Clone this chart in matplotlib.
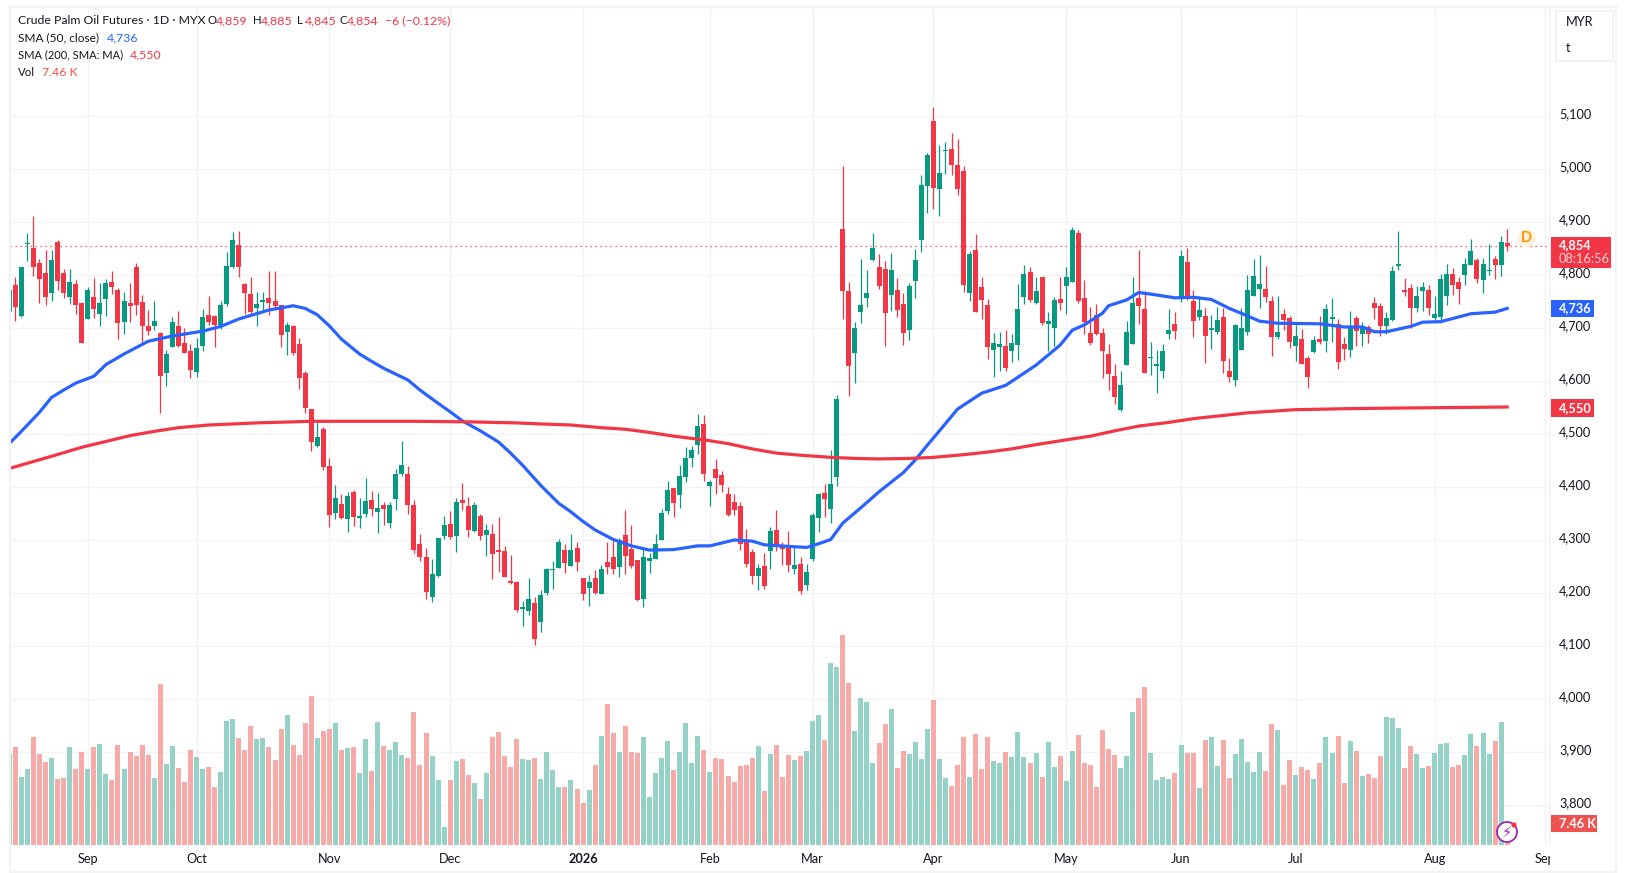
from matplotlib import pyplot as plt
from matplotlib.patches import Circle, Rectangle
from matplotlib.transforms import Bbox, IdentityTransform, ScaledTranslation
from matplotlib.lines import Line2D

WIDTH, HEIGHT = 1626, 873

opens = [
    4730, 4780, 4722, 4857, 4850, 4822, 4803, 4765, 4862, 4803,
    4758, 4782, 4747, 4716, 4758, 4726, 4754, 4786, 4771, 4711,
    4747, 4814, 4748, 4703, 4703, 4689, 4614, 4663, 4703, 4671,
    4656, 4616, 4665, 4724, 4722, 4705, 4745, 4814, 4856, 4782,
    4763, 4737, 4748, 4756, 4750, 4743, 4692, 4703, 4669, 4614,
    4546, 4476, 4508, 4438, 4350, 4367, 4338, 4389, 4340, 4348,
    4374, 4352, 4365, 4331, 4376, 4423, 4423, 4365, 4291, 4267,
    4191, 4231, 4306, 4329, 4306, 4374, 4363, 4316, 4344, 4308,
    4310, 4280, 4278, 4221, 4219, 4168, 4165, 4180, 4144, 4199,
    4242, 4246, 4280, 4250, 4284, 4227, 4208, 4227, 4197, 4257,
    4267, 4248, 4308, 4282, 4261, 4187, 4259, 4263, 4299, 4353,
    4397, 4384, 4418, 4453, 4478, 4518, 4401, 4433, 4421, 4386,
    4370, 4363, 4297, 4276, 4231, 4250, 4278, 4318, 4287, 4284,
    4244, 4253, 4214, 4263, 4340, 4387, 4357, 4418, 4886, 4769,
    4652, 4729, 4755, 4827, 4814, 4810, 4761, 4770, 4744, 4695,
    4787, 4865, 4967, 5089, 4961, 5033, 5036, 5006, 4995, 4765,
    4846, 4776, 4742, 4657, 4663, 4665, 4655, 4667, 4757, 4804,
    4746, 4795, 4706, 4699, 4753, 4778, 4786, 4878, 4755, 4690,
    4724, 4690, 4650, 4609, 4545, 4630, 4669, 4756, 4735, 4643,
    4628, 4618, 4688, 4707, 4756, 4824, 4750, 4720, 4722, 4696,
    4692, 4720, 4618, 4601, 4658, 4692, 4760, 4773, 4773, 4750,
    4682, 4726, 4718, 4665, 4678, 4643, 4654, 4678, 4675, 4716,
    4707, 4669, 4658, 4718, 4688, 4701, 4747, 4741, 4703, 4714,
    4816, 4771, 4775, 4737, 4769, 4771, 4718, 4720, 4760, 4801,
    4786, 4799, 4818, 4828, 4790, 4807, 4830, 4818, 4859,
]
highs = [
    4771, 4795, 4814, 4879, 4911, 4830, 4847, 4847, 4865, 4811,
    4811, 4790, 4749, 4777, 4794, 4784, 4792, 4807, 4775, 4767,
    4784, 4822, 4762, 4733, 4750, 4691, 4658, 4720, 4731, 4699,
    4669, 4680, 4735, 4760, 4724, 4750, 4843, 4880, 4882, 4784,
    4796, 4767, 4767, 4807, 4807, 4743, 4711, 4705, 4680, 4618,
    4547, 4521, 4512, 4453, 4402, 4386, 4389, 4393, 4378, 4416,
    4391, 4387, 4370, 4370, 4433, 4486, 4438, 4374, 4310, 4284,
    4263, 4303, 4344, 4353, 4378, 4406, 4380, 4370, 4348, 4329,
    4329, 4342, 4287, 4270, 4221, 4184, 4227, 4191, 4204, 4246,
    4259, 4301, 4291, 4310, 4295, 4227, 4233, 4242, 4252, 4295,
    4303, 4303, 4355, 4327, 4261, 4282, 4274, 4310, 4357, 4410,
    4397, 4440, 4474, 4476, 4536, 4535, 4412, 4452, 4429, 4399,
    4386, 4370, 4319, 4282, 4253, 4274, 4323, 4355, 4295, 4316,
    4287, 4267, 4253, 4350, 4387, 4404, 4469, 4572, 5004, 4786,
    4710, 4829, 4808, 4878, 4838, 4825, 4840, 4793, 4765, 4784,
    4848, 4987, 5029, 5116, 5044, 5050, 5067, 5055, 5004, 4844,
    4876, 4795, 4753, 4689, 4691, 4695, 4687, 4782, 4818, 4814,
    4795, 4795, 4729, 4757, 4795, 4814, 4889, 4884, 4789, 4738,
    4745, 4699, 4669, 4631, 4618, 4712, 4796, 4847, 4769, 4673,
    4658, 4669, 4735, 4730, 4847, 4850, 4771, 4760, 4737, 4724,
    4739, 4737, 4643, 4707, 4737, 4799, 4830, 4837, 4816, 4760,
    4760, 4735, 4722, 4705, 4697, 4647, 4684, 4722, 4745, 4756,
    4716, 4682, 4731, 4722, 4711, 4705, 4758, 4747, 4730, 4816,
    4882, 4794, 4782, 4779, 4786, 4780, 4760, 4801, 4820, 4813,
    4796, 4831, 4867, 4831, 4831, 4858, 4835, 4873, 4885,
]
lows = [
    4730, 4713, 4720, 4826, 4797, 4747, 4743, 4750, 4771, 4756,
    4745, 4726, 4671, 4716, 4718, 4703, 4722, 4764, 4679, 4688,
    4711, 4724, 4671, 4686, 4696, 4539, 4590, 4663, 4663, 4652,
    4605, 4607, 4656, 4705, 4663, 4697, 4741, 4813, 4796, 4726,
    4722, 4703, 4730, 4724, 4737, 4663, 4648, 4648, 4584, 4538,
    4467, 4474, 4431, 4323, 4338, 4338, 4314, 4325, 4321, 4342,
    4344, 4312, 4327, 4321, 4355, 4419, 4348, 4274, 4259, 4187,
    4182, 4229, 4301, 4301, 4276, 4355, 4304, 4314, 4299, 4269,
    4225, 4238, 4229, 4216, 4163, 4137, 4158, 4101, 4125, 4195,
    4206, 4246, 4236, 4250, 4240, 4186, 4174, 4197, 4197, 4235,
    4235, 4229, 4235, 4246, 4184, 4172, 4236, 4263, 4299, 4348,
    4342, 4359, 4408, 4436, 4461, 4410, 4363, 4386, 4389, 4344,
    4346, 4280, 4248, 4216, 4204, 4206, 4244, 4278, 4252, 4238,
    4235, 4197, 4204, 4259, 4314, 4342, 4331, 4401, 4716, 4570,
    4595, 4708, 4738, 4825, 4772, 4665, 4731, 4719, 4667, 4676,
    4755, 4842, 4916, 4923, 4910, 4989, 4987, 4950, 4767, 4750,
    4729, 4716, 4640, 4606, 4618, 4618, 4635, 4638, 4744, 4748,
    4744, 4704, 4655, 4665, 4733, 4725, 4786, 4746, 4687, 4667,
    4686, 4605, 4582, 4556, 4543, 4630, 4669, 4707, 4614, 4611,
    4577, 4605, 4679, 4679, 4748, 4752, 4682, 4714, 4633, 4660,
    4688, 4614, 4597, 4590, 4658, 4686, 4760, 4737, 4748, 4647,
    4679, 4696, 4662, 4637, 4631, 4586, 4652, 4669, 4654, 4673,
    4622, 4639, 4645, 4665, 4665, 4671, 4716, 4684, 4688, 4713,
    4809, 4760, 4699, 4730, 4731, 4724, 4711, 4713, 4743, 4762,
    4745, 4780, 4818, 4784, 4765, 4799, 4792, 4797, 4845,
]
closes = [
    4771, 4739, 4814, 4859, 4814, 4792, 4758, 4828, 4788, 4765,
    4786, 4743, 4671, 4771, 4735, 4747, 4784, 4777, 4709, 4750,
    4741, 4743, 4703, 4694, 4713, 4609, 4650, 4711, 4665, 4652,
    4620, 4662, 4720, 4711, 4705, 4743, 4816, 4865, 4814, 4765,
    4730, 4745, 4752, 4747, 4741, 4686, 4705, 4652, 4605, 4548,
    4484, 4493, 4436, 4346, 4378, 4340, 4382, 4342, 4344, 4372,
    4357, 4359, 4357, 4365, 4423, 4440, 4365, 4280, 4267, 4201,
    4235, 4303, 4327, 4304, 4370, 4369, 4318, 4365, 4306, 4318,
    4272, 4276, 4229, 4218, 4167, 4172, 4187, 4112, 4195, 4244,
    4244, 4295, 4255, 4280, 4257, 4197, 4219, 4199, 4244, 4248,
    4244, 4299, 4269, 4250, 4186, 4267, 4265, 4291, 4350, 4393,
    4369, 4419, 4453, 4469, 4514, 4423, 4408, 4416, 4403, 4346,
    4355, 4291, 4253, 4231, 4246, 4212, 4316, 4286, 4282, 4252,
    4252, 4202, 4238, 4346, 4386, 4376, 4404, 4565, 4769, 4627,
    4699, 4742, 4765, 4850, 4778, 4727, 4808, 4733, 4689, 4778,
    4827, 4969, 5025, 4963, 4991, 5035, 5006, 4961, 4780, 4838,
    4729, 4752, 4663, 4670, 4669, 4623, 4670, 4735, 4801, 4752,
    4769, 4708, 4712, 4752, 4746, 4795, 4884, 4750, 4710, 4671,
    4688, 4656, 4613, 4569, 4592, 4692, 4747, 4741, 4614, 4645,
    4631, 4656, 4696, 4694, 4835, 4756, 4713, 4733, 4684, 4699,
    4714, 4637, 4607, 4705, 4699, 4771, 4797, 4782, 4758, 4682,
    4692, 4714, 4673, 4684, 4631, 4607, 4677, 4673, 4735, 4720,
    4635, 4660, 4701, 4694, 4703, 4688, 4737, 4703, 4718, 4807,
    4820, 4767, 4737, 4760, 4777, 4737, 4726, 4792, 4801, 4780,
    4773, 4820, 4845, 4792, 4820, 4809, 4818, 4862, 4854,
]
# thousands of contracts
volumes = [
    34.1, 36.8, 25.5, 28.5, 40.5, 34.1, 31.1, 32.6, 24.8, 25.1,
    36.8, 28.5, 34.9, 28.5, 36.8, 37.9, 26.6, 24.4, 37.5, 28.5,
    34.9, 33.4, 37.5, 33.8, 25.1, 60.4, 30.4, 37.1, 28.9, 23.6,
    35.6, 33.0, 28.5, 29.3, 21.8, 27.4, 46.5, 47.3, 40.1, 35.6,
    44.6, 39.8, 40.1, 36.8, 31.9, 43.5, 48.8, 37.5, 33.8, 45.8,
    55.9, 40.1, 42.8, 43.5, 45.8, 35.6, 36.4, 36.8, 27.0, 39.8,
    27.8, 46.1, 37.1, 35.6, 38.6, 33.8, 32.6, 49.9, 30.0, 42.0,
    33.4, 24.4, 6.8, 24.4, 31.5, 32.3, 26.3, 23.3, 17.3, 27.0,
    40.5, 42.4, 33.4, 29.3, 39.8, 32.3, 31.9, 32.6, 24.8, 34.9,
    28.1, 21.8, 21.8, 24.4, 21.0, 15.8, 20.6, 30.0, 40.9, 52.9,
    42.0, 34.9, 44.6, 34.9, 34.5, 40.5, 18.0, 27.0, 32.6, 39.0,
    28.1, 34.9, 45.8, 30.8, 40.9, 35.6, 27.4, 32.6, 32.3, 25.9,
    23.6, 29.6, 30.0, 32.6, 37.1, 20.3, 34.1, 37.5, 25.5, 33.8,
    31.9, 33.4, 35.3, 46.5, 48.8, 39.4, 68.3, 66.8, 78.8, 60.8,
    42.8, 55.1, 53.6, 30.8, 38.3, 45.4, 51.0, 28.9, 35.3, 34.1,
    38.6, 32.3, 43.5, 54.4, 32.3, 25.1, 22.1, 30.0, 40.5, 25.5,
    41.6, 28.5, 40.5, 31.5, 30.8, 34.9, 33.0, 42.4, 33.0, 30.8,
    34.5, 25.5, 38.6, 29.3, 33.4, 24.0, 35.3, 41.3, 30.8, 30.0,
    21.8, 43.1, 36.0, 33.8, 28.9, 33.4, 49.9, 55.1, 59.3, 34.5,
    24.4, 25.5, 24.8, 27.0, 37.5, 34.5, 34.5, 21.4, 39.4, 40.5,
    29.6, 39.4, 25.1, 34.1, 39.8, 31.1, 27.4, 34.9, 27.8, 45.4,
    43.1, 22.5, 31.9, 26.3, 29.3, 28.1, 24.8, 30.8, 40.5, 34.5,
    40.9, 23.3, 39.0, 35.3, 25.9, 26.6, 25.1, 33.4, 48.0, 47.6,
    43.9, 28.9, 37.1, 34.1, 28.9, 29.6, 34.5, 37.9, 38.3, 29.3,
    30.0, 33.8, 41.6, 37.0, 42.0, 34.0, 39.0, 46.0, 7.46,
]

# moving averages at these bar numbers
sma50_bars = [
    0, 2, 5, 7, 9, 11, 14, 16, 19, 23, 27, 32, 35, 38, 43, 47, 49, 51, 53, 55,
    58, 60, 62, 64, 66, 68, 71, 73, 75, 78, 81, 83, 85, 88, 91, 93, 95, 97, 100,
    103, 106, 110, 114, 116, 120, 123, 125, 129, 132, 134, 136, 138, 141, 144,
    146, 148, 150, 152, 154, 157, 161, 165, 170, 174, 176, 178, 181, 182, 185,
    187, 189, 193, 196, 199, 202, 205, 207, 210, 217, 221, 224, 226, 228, 232,
    234, 237, 242, 246, 248,
]
sma50_values = [
    4481, 4504, 4540, 4568, 4582, 4595, 4608, 4630, 4650, 4674, 4684, 4693,
    4702, 4716, 4733, 4741, 4736, 4724, 4703, 4678, 4650, 4636, 4623, 4612,
    4601, 4582, 4557, 4541, 4524, 4505, 4484, 4463, 4440, 4402, 4368, 4352,
    4334, 4318, 4300, 4288, 4280, 4281, 4288, 4288, 4299, 4297, 4290, 4287,
    4285, 4292, 4300, 4331, 4360, 4390, 4408, 4426, 4450, 4478, 4505, 4546,
    4576, 4591, 4629, 4667, 4695, 4705, 4727, 4741, 4752, 4766, 4763, 4756,
    4757, 4753, 4736, 4722, 4712, 4708, 4707, 4701, 4701, 4692, 4692, 4702,
    4710, 4711, 4726, 4729, 4736,
]
sma200_bars = [
    0, 7, 12, 16, 20, 24, 28, 33, 37, 41, 50, 58, 67, 76, 84, 88, 93, 98, 102,
    106, 110, 115, 119, 123, 127, 131, 136, 140, 144, 149, 153, 158, 162, 166,
    170, 175, 179, 183, 187, 192, 196, 201, 205, 209, 213, 218, 222, 230, 239, 248,
]
sma200_values = [
    4434, 4457, 4474, 4485, 4496, 4504, 4511, 4516, 4518, 4520, 4523, 4523,
    4523, 4522, 4520, 4518, 4516, 4511, 4508, 4502, 4495, 4488, 4481, 4471,
    4463, 4459, 4455, 4453, 4452, 4453, 4455, 4460, 4465, 4471, 4479, 4488,
    4495, 4505, 4514, 4521, 4528, 4534, 4539, 4542, 4545, 4546, 4547, 4548,
    4549, 4550,
]

price_ticks = list(range(3800, 5200, 100))
month_bars = [13, 31, 53, 73, 95, 116, 133, 153, 175, 194, 213, 236, 254.3]
month_labels = ['Sep', 'Oct', 'Nov', 'Dec', '2026', 'Feb', 'Mar', 'Apr', 'May', 'Jun', 'Jul', 'Aug', 'Sep']
last_close = 4854
last_sma50 = 4736
last_sma200 = 4550

UP = '#089981'
DOWN = '#f23645'
UP_VOL = '#91d0c6'
DOWN_VOL = '#f7a8a6'
INK = '#131722'
GRID = '#f2f3f5'
BLUE = '#2962ff'

plt.rcParams['font.family'] = ['Lato', 'DejaVu Sans']
plt.rcParams['font.size'] = 9.2

fig = plt.figure(figsize=(WIDTH / 100, HEIGHT / 100), dpi=100, facecolor='white')

# pixel layout of the pane, measured from the top left of the image
left, right, top, bottom = 10, 1550, 8, 845
ax = fig.add_axes([left / WIDTH, 1 - bottom / HEIGHT, (right - left) / WIDTH, (bottom - top) / HEIGHT])
bar_px = 6.04
bar_zero = 9.26
ax.set_xlim((left - bar_zero) / bar_px, (right - bar_zero) / bar_px)
ax.set_ylim(4900 - (bottom - 221.5) / 0.53, 4900 + (221.5 - top) / 0.53)
for s in ax.spines.values():
    s.set_visible(False)

# candles
bars = list(range(len(closes)))
colors = [UP if c >= o else DOWN for o, c in zip(opens, closes)]
ax.vlines(bars, lows, highs, colors=colors, lw=0.9, zorder=3)
ax.bar(bars, [max(abs(c - o), 1.9) for o, c in zip(opens, closes)],
       bottom=[min(o, c) for o, c in zip(opens, closes)],
       width=5 / bar_px, color=colors, lw=0, zorder=4)

ax.plot(sma50_bars, sma50_values, color=BLUE, lw=2.3, zorder=5, solid_joinstyle='round')
ax.plot(sma200_bars, sma200_values, color=DOWN, lw=2.3, zorder=5, solid_joinstyle='round')
ax.axhline(last_close, color=DOWN, lw=0.9, ls=(0, (1, 3)), zorder=2)

# volume sits on its own scale at the bottom of the same pane
vol_ax = ax.twinx()
vol_ax.set_ylim(0, (bottom - top) / 2.667)
vol_ax.axis('off')
vol_ax.bar(bars, volumes, width=5 / bar_px,
           color=[UP_VOL if c >= o else DOWN_VOL for o, c in zip(opens, closes)], lw=0, alpha=0.97)

# twinx puts the price ticks back on the left, so set them up afterwards
ax.set_axisbelow(True)
ax.grid(True, color=GRID, lw=1.0)
ax.yaxis.tick_right()
ax.set_yticks(price_ticks, [f'{p:,}' for p in price_ticks], color=INK)
ax.set_xticks(month_bars, month_labels, color=INK)
ax.tick_params(length=0)
ax.tick_params(axis='y', pad=6.5)
ax.tick_params(axis='x', pad=5.5)
# price labels sit a touch above their grid lines
lift = ScaledTranslation(0, 1.5 / 72, fig.dpi_scale_trans)
for lab in ax.get_yticklabels():
    lab.set_transform(lab.get_transform() + lift)
for lab in ax.get_xticklabels():
    if lab.get_text() == '2026':
        lab.set_fontweight('bold')
# the last month label is cut by the price scale
ax.get_xticklabels()[-1].set_clip_on(True)
ax.get_xticklabels()[-1].set_clip_box(Bbox([[0, 0], [right, HEIGHT]]))

px = IdentityTransform()


def frame_line(x0, y0, x1, y1, color=GRID, lw=1.6):
    fig.add_artist(Line2D([x0, x1], [HEIGHT - y0, HEIGHT - y1], color=color, lw=lw, transform=px))


def badge(x0, x1, y0, y1, color):
    fig.add_artist(Rectangle((x0, HEIGHT - y1), x1 - x0, y1 - y0, color=color, lw=0, transform=px, zorder=6))


def label(x, y, text, color=INK, **kw):
    fig.text(x, HEIGHT - y, text, color=color, va='center', transform=px, zorder=7, **kw)


# outer frame and price scale separator
frame_line(9.5, 7, 1616, 7)
frame_line(9.5, 7, 9.5, 872)
frame_line(1616, 7, 1616, 872)
frame_line(9.5, 872, 1616, 872)
frame_line(1550, 7, 1550, 845, lw=1.1)
fig.add_artist(Rectangle((1556, HEIGHT - 61), 57, 50, fill=False, ec=GRID, lw=1.4, transform=px))
label(1566, 22, 'MYR')
label(1566, 48, 't')

# legend rows
words = 8.2
numbers = 8.9
label(18, 21, 'Crude Palm Oil Futures · 1D · MYX', fontsize=8.85)
for x, text, color, size in [(208, 'O', INK, words), (216, '4,859', DOWN, numbers),
                             (253, 'H', INK, words), (261, '4,885', DOWN, numbers),
                             (297, 'L', INK, words), (305, '4,845', DOWN, numbers),
                             (340, 'C', INK, words), (347, '4,854', DOWN, numbers),
                             (385, '−6 (−0.12%)', DOWN, numbers)]:
    label(x, 21, text, color, fontsize=size)
label(18, 38, 'SMA (50, close)', fontsize=8.6)
label(107, 38, '4,736', BLUE, fontsize=numbers)
label(18, 55, 'SMA (200, SMA: MA)', fontsize=8.0)
label(130, 55, '4,550', DOWN, fontsize=numbers)
label(18, 72, 'Vol', fontsize=words)
label(42, 72, '7.46 K', '#ef5350', fontsize=numbers)

# value tags on the price scale
badge(1551, 1611, 237, 268, DOWN)
label(1559, 245, f'{last_close:,}', 'white', fontweight='bold')
label(1559, 259, '08:16:56', '#fbd3d6')
badge(1551, 1594, 300, 317, BLUE)
label(1559, 308.5, f'{last_sma50:,}', 'white', fontweight='bold')
badge(1551, 1594, 399, 417, DOWN)
label(1559, 408, f'{last_sma200:,}', 'white', fontweight='bold')
badge(1551, 1597, 815, 832, '#ef5350')
label(1559, 823.5, '7.46 K', 'white', fontweight='bold')

# daily session dot
fig.add_artist(Circle((1526.7, HEIGHT - 238.3), 9, color='#fdf0dc', lw=0, transform=px, zorder=6))
fig.text(1526.7, HEIGHT - 238.3, 'D', color='#ff9800', fontsize=10.5, fontweight='bold',
         ha='center', va='center', transform=px, zorder=7)

# flash badge over the last volume bar
fig.add_artist(Circle((1507, HEIGHT - 832), 10, fc='white', ec='#9c27b0', lw=1.3, transform=px, zorder=6))
fig.text(1507, HEIGHT - 832, '⚡', color='#9c27b0', fontsize=10.5, ha='center', va='center',
         family='DejaVu Sans', transform=px, zorder=7)
fig.add_artist(Circle((1514, HEIGHT - 825), 2.6, color=DOWN, lw=0, transform=px, zorder=8))

fig.savefig('out.png', dpi=100, facecolor='white')
